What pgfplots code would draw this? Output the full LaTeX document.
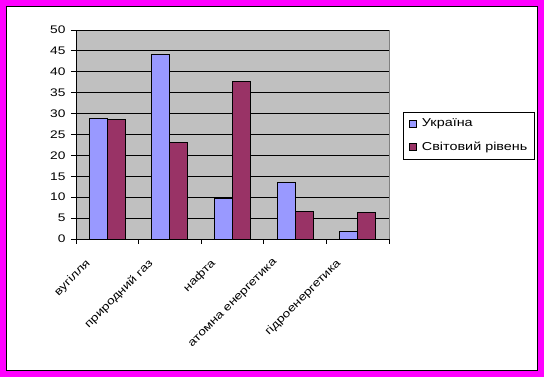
\documentclass[border=0pt]{standalone}
\usepackage{pgfplots}
\pgfplotsset{compat=1.18}
\usepackage{fontspec}
\setmainfont{Liberation Sans}[FakeStretch=1.25]
\definecolor{ukr}{RGB}{153,153,255}
\definecolor{wrld}{RGB}{153,51,102}
\definecolor{plotbg}{RGB}{192,192,192}
\definecolor{mag}{RGB}{255,0,255}
\definecolor{frm}{RGB}{128,128,128}
\begin{document}
\begin{tikzpicture}[x=1pt,y=1pt]
\fill[mag] (0,0) rectangle (544,377);
\fill[white,draw=black,line width=1pt] (6.5,6.5) rectangle (537.5,370.5);
\useasboundingbox (0,0) rectangle (544,377);
\begin{axis}[
  at={(76pt,138pt)}, anchor=south west,
  scale only axis, width=313pt, height=209pt,
  ymin=0, ymax=50, ytick={0,5,...,50},
  xmin=-0.5, xmax=4.5,
  ybar=0pt, bar width=18pt,
  axis x line*=bottom, axis y line*=left,
  axis line style={black,line width=0.9pt},
  axis background/.style={fill=plotbg,draw=frm,line width=0.9pt},
  ymajorgrids, grid style={black,line width=0.8pt},
  tick align=outside, major tick length=5pt,
  tick style={black,line width=0.8pt},
  xtick={-0.5,0.5,1.5,2.5,3.5,4.5},
  xticklabels={вугілля,природний газ,нафта,атомна енергетика,гідроенергетика,{}},
  xticklabel style={font=\fontsize{11}{13}\selectfont, inner sep=0pt, anchor=north east, xshift=9pt, yshift=-14pt, rotate=45},
  yticklabel style={font=\fontsize{11}{13}\selectfont, xshift=-2pt},
  /pgf/number format/assume math mode=true,
  legend style={at={(1.045,0.61)}, anchor=north west, draw=black, line width=0.9pt,
    font=\fontsize{11.5}{13}\selectfont, row sep=10pt, inner sep=5pt, fill=white},
  legend cell align=left,
]
\addplot[fill=ukr, draw=black, line width=0.9pt,
  legend image code/.code={\draw[fill=ukr,draw=black,line width=0.9pt] (0pt,-3.5pt) rectangle (7pt,3.5pt); \path[draw=none,fill=none] (0pt,0pt) rectangle (11pt,0.1pt);}]
  coordinates {(0,28.9) (1,44.2) (2,9.8) (3,13.5) (4,1.9)};
\addlegendentry{Україна}
\addplot[fill=wrld, draw=black, line width=0.9pt,
  legend image code/.code={\draw[fill=wrld,draw=black,line width=0.9pt] (0pt,-3.5pt) rectangle (7pt,3.5pt); \path[draw=none,fill=none] (0pt,0pt) rectangle (11pt,0.1pt);}]
  coordinates {(0,28.6) (1,23.1) (2,37.7) (3,6.6) (4,6.4)};
\addlegendentry{Світовий рівень}
\end{axis}
\end{tikzpicture}
\end{document}
